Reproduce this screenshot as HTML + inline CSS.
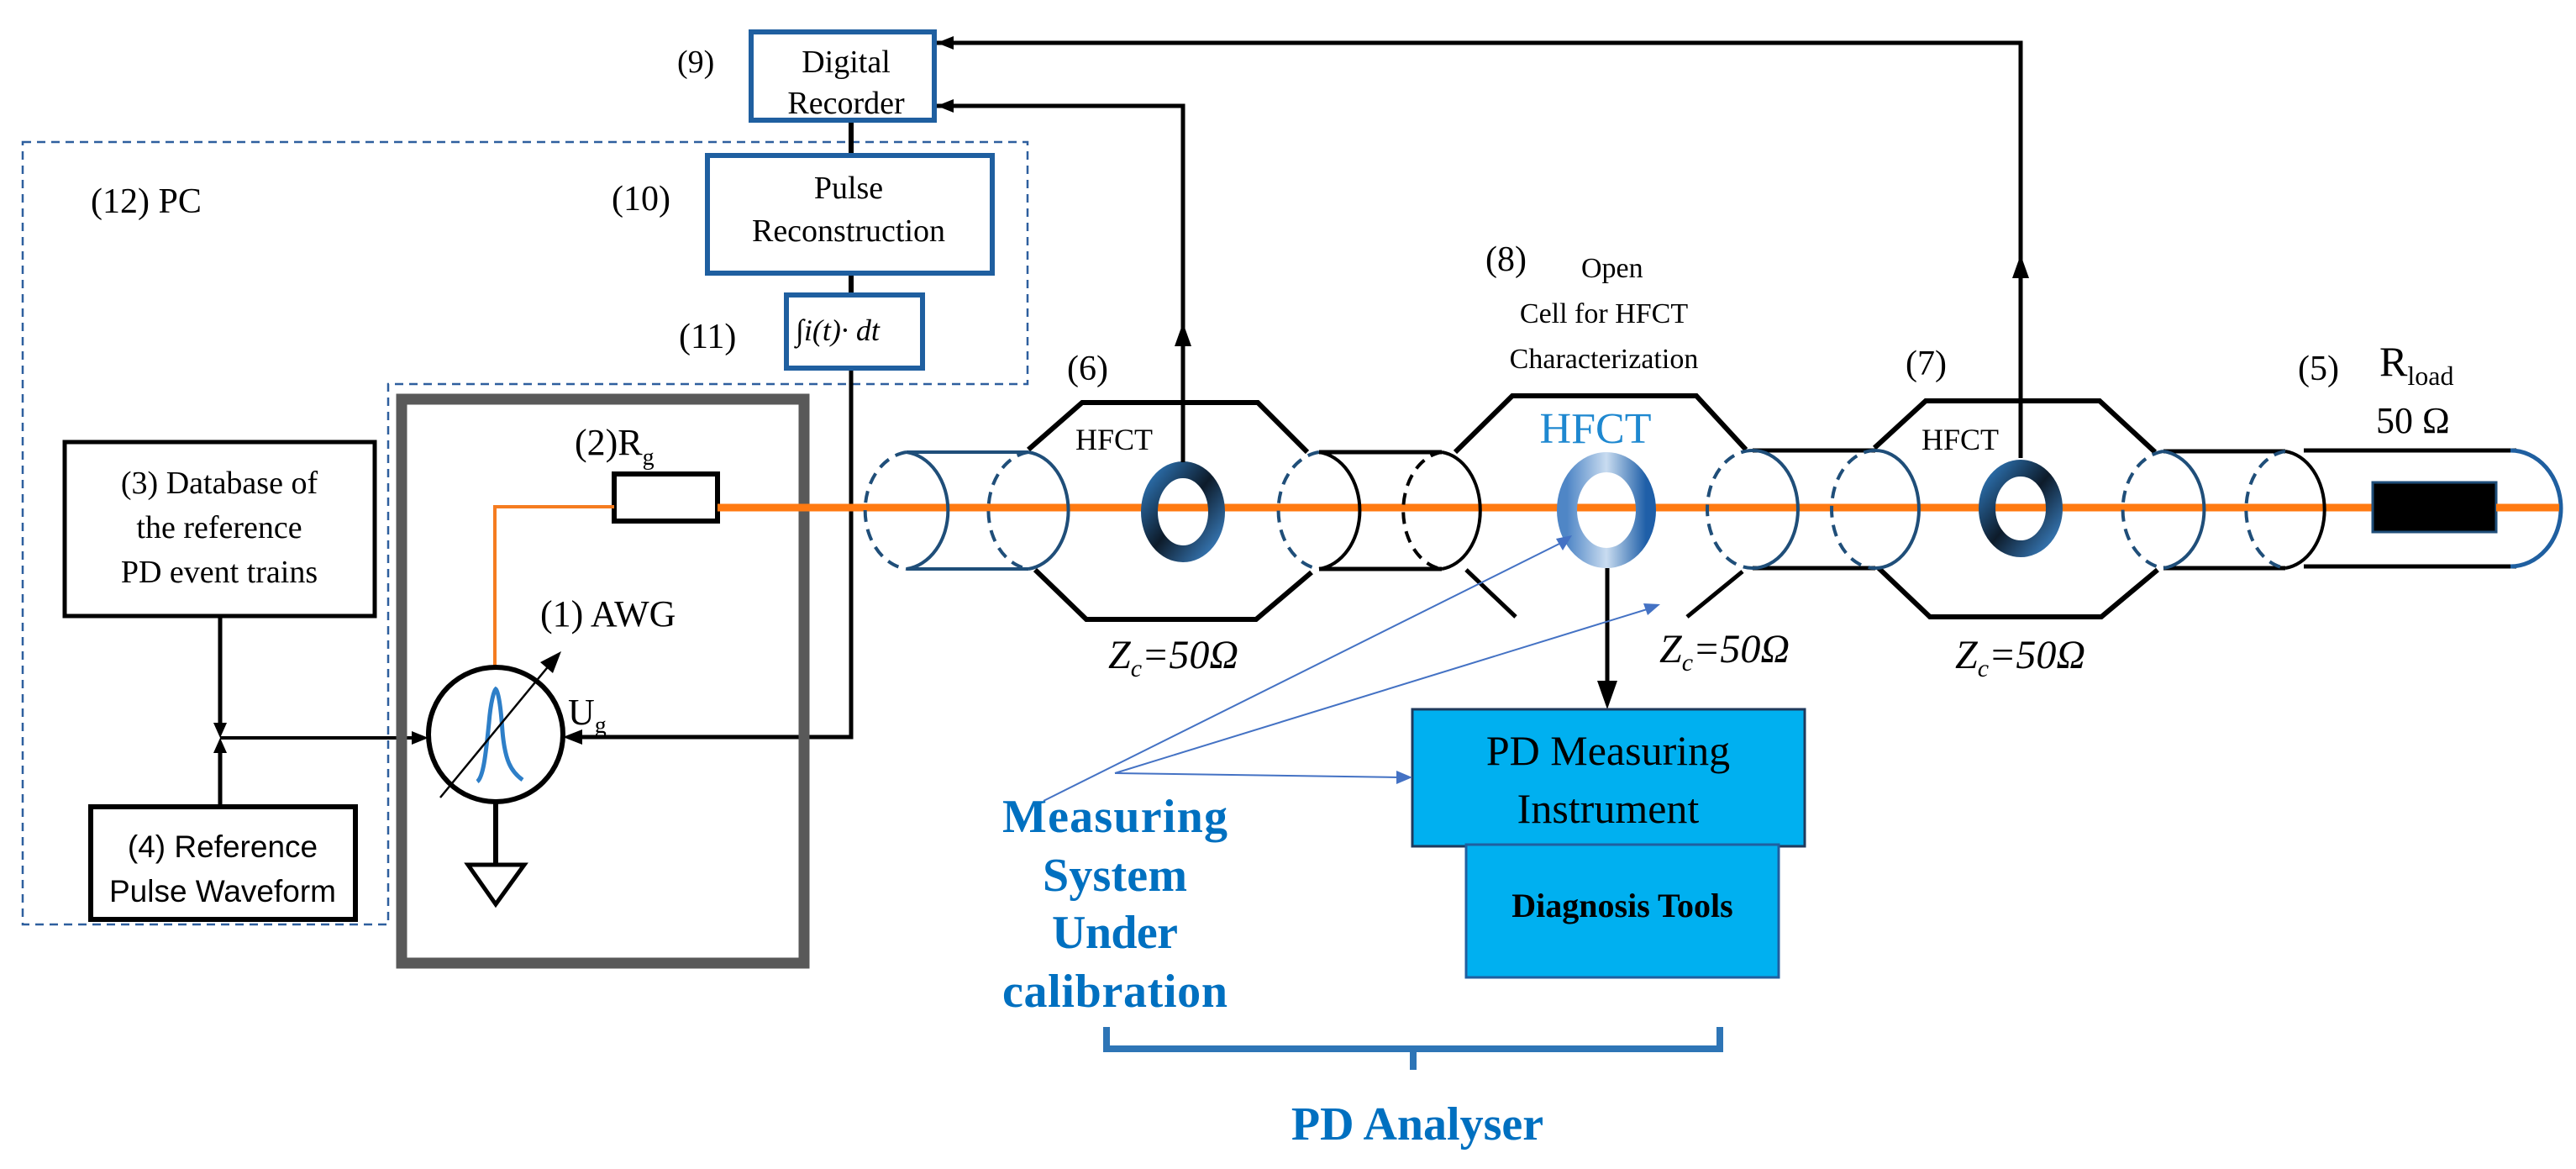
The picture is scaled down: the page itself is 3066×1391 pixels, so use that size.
<!DOCTYPE html>
<html><head><meta charset="utf-8"><style>
html,body{margin:0;padding:0;background:#fff;}
svg{display:block;font-family:"Liberation Serif","DejaVu Serif",serif;}
svg text{font-family:"Liberation Serif","DejaVu Serif",serif;}
svg text.sans{font-family:"Liberation Sans","DejaVu Sans",sans-serif;}
</style></head><body>
<svg width="3066" height="1391" viewBox="0 0 3066 1391" xmlns="http://www.w3.org/2000/svg" font-family="Liberation Serif, DejaVu Serif, serif">
<defs>
<linearGradient id="gd" x1="0" y1="0" x2="1" y2="1"><stop offset="0" stop-color="#2e75b6"/><stop offset="0.5" stop-color="#0d1b2a"/><stop offset="1" stop-color="#3a7fc0"/></linearGradient>
<linearGradient id="gl" x1="0" y1="0" x2="1" y2="0"><stop offset="0" stop-color="#4f86c6"/><stop offset="0.5" stop-color="#c9dcf0"/><stop offset="1" stop-color="#1f5fa8"/></linearGradient>
</defs>

<path d="M27 169 H1223 V457 H462 V1100 H27 Z" fill="none" stroke="#2e5f9e" stroke-width="2.5" stroke-dasharray="10 7"/>
<text x="108" y="253" font-size="42">(12) PC</text>

<rect x="894" y="38" width="218" height="105" fill="#fff" stroke="#1f5fa0" stroke-width="6"/>
<text x="1007" y="86" font-size="38" text-anchor="middle">Digital</text>
<text x="1007" y="135" font-size="38" text-anchor="middle">Recorder</text>
<text x="806" y="86" font-size="38">(9)</text>

<line x1="1013" y1="146" x2="1013" y2="182" stroke="#000" stroke-width="6"/>
<rect x="842" y="185" width="339" height="140" fill="#fff" stroke="#1f5fa0" stroke-width="6"/>
<text x="1010" y="236" font-size="38" text-anchor="middle">Pulse</text>
<text x="1010" y="287" font-size="38" text-anchor="middle">Reconstruction</text>
<text x="728" y="250" font-size="42">(10)</text>

<line x1="1013" y1="328" x2="1013" y2="348" stroke="#000" stroke-width="6"/>
<rect x="936" y="351" width="162" height="87" fill="#fff" stroke="#1f5fa0" stroke-width="6"/>
<text x="947" y="405" font-size="36" font-style="italic">∫i(t)· dt</text>
<text x="808" y="414" font-size="42">(11)</text>

<polyline points="1013,441 1013,877 690,877" fill="none" stroke="#000" stroke-width="5"/>
<polygon points="670,877 693,868 693,886" fill="#000"/>

<rect x="77" y="526" width="369" height="207" fill="#fff" stroke="#000" stroke-width="5"/>
<text x="261" y="587" font-size="38" text-anchor="middle">(3) Database of</text>
<text x="261" y="640" font-size="38" text-anchor="middle">the reference</text>
<text x="261" y="693" font-size="38" text-anchor="middle">PD event trains</text>
<rect x="108" y="960" width="315" height="134" fill="#fff" stroke="#000" stroke-width="6"/>
<text class="sans" x="265" y="1020" font-size="37" text-anchor="middle">(4) Reference</text>
<text class="sans" x="265" y="1073" font-size="37" text-anchor="middle">Pulse Waveform</text>

<line x1="262" y1="735" x2="262" y2="862" stroke="#000" stroke-width="5"/>
<polygon points="262,878 254,860 270,860" fill="#000"/>
<line x1="262" y1="958" x2="262" y2="894" stroke="#000" stroke-width="5"/>
<polygon points="262,878 254,896 270,896" fill="#000"/>
<line x1="262" y1="878" x2="492" y2="878" stroke="#000" stroke-width="4"/>
<polygon points="510,878 490,870 490,886" fill="#000"/>

<rect x="478" y="475" width="479" height="671" fill="none" stroke="#595959" stroke-width="13"/>
<text x="684" y="541" font-size="44">(2)R<tspan font-size="28" dy="12">g</tspan></text>
<rect x="731" y="564" width="123" height="56" fill="#fff" stroke="#000" stroke-width="6"/>
<polyline points="731,603 589,603 589,794" fill="none" stroke="#f57c20" stroke-width="4"/>
<text x="643" y="745" font-size="44">(1) AWG</text>
<circle cx="590" cy="874" r="80" fill="#fff" stroke="#000" stroke-width="6"/>
<path d="M568 930 C575 925 578 900 582 860 C584 835 588 822 590 820 C593 822 596 840 598 870 C601 905 608 918 622 928" fill="none" stroke="#2e7fc8" stroke-width="5"/>
<line x1="524" y1="949" x2="655" y2="790" stroke="#000" stroke-width="2.5"/>
<polygon points="668,775 643,788 658,801" fill="#000"/>
<text x="676" y="862" font-size="44">U<tspan font-size="28" dy="10">g</tspan></text>
<line x1="590" y1="954" x2="590" y2="1029" stroke="#000" stroke-width="6"/>
<polygon points="557,1029 624,1029 590,1076" fill="#fff" stroke="#000" stroke-width="5"/>

<line x1="854" y1="604" x2="3046" y2="604" stroke="#ff7a12" stroke-width="9"/>

<polyline points="1224,535 1288,479 1497,479 1556,538" fill="none" stroke="#000" stroke-width="6"/>
<polyline points="1232,678 1293,737 1495,737 1561,681" fill="none" stroke="#000" stroke-width="6"/>
<polyline points="1732,538 1800,471 2019,471 2078,535" fill="none" stroke="#000" stroke-width="6"/>
<line x1="1745" y1="678" x2="1804" y2="734" stroke="#000" stroke-width="5"/>
<line x1="2074" y1="680" x2="2008" y2="734" stroke="#000" stroke-width="5"/>
<polyline points="2231,533 2292,477 2499,477 2565,538" fill="none" stroke="#000" stroke-width="6"/>
<polyline points="2236,676 2297,734 2501,734 2568,678" fill="none" stroke="#000" stroke-width="6"/>

<g fill="none" stroke-width="4">
<line x1="1079" y1="538" x2="1224" y2="538" stroke="#1f4e79"/>
<line x1="1079" y1="677" x2="1224" y2="677" stroke="#1f4e79"/>
<path d="M1079 538 A56 70 0 0 0 1079 677" stroke="#1f4e79" stroke-dasharray="14 9"/>
<path d="M1079 538 A56 70 0 0 1 1079 677" stroke="#1f4e79"/>
<path d="M1224 538 A54 70 0 0 0 1224 677" stroke="#1f4e79" stroke-dasharray="14 9"/>
<path d="M1224 538 A54 70 0 0 1 1224 677" stroke="#1f4e79"/>
<line x1="1570" y1="538" x2="1716" y2="538" stroke="#000" stroke-width="5"/>
<line x1="1570" y1="677" x2="1716" y2="677" stroke="#000" stroke-width="5"/>
<path d="M1570 538 A55 70 0 0 0 1570 677" stroke="#1f4e79" stroke-dasharray="14 9"/>
<path d="M1570 538 A55 70 0 0 1 1570 677" stroke="#000"/>
<path d="M1716 538 A52 70 0 0 0 1716 677" stroke="#000" stroke-dasharray="14 9"/>
<path d="M1716 538 A52 70 0 0 1 1716 677" stroke="#000"/>
<line x1="2086" y1="536" x2="2232" y2="536" stroke="#000" stroke-width="5"/>
<line x1="2086" y1="676" x2="2232" y2="676" stroke="#000" stroke-width="5"/>
<path d="M2086 536 A54 70 0 0 0 2086 676" stroke="#1f4e79" stroke-dasharray="14 9"/>
<path d="M2086 536 A54 70 0 0 1 2086 676" stroke="#1f4e79"/>
<path d="M2232 536 A52 70 0 0 0 2232 676" stroke="#1f4e79" stroke-dasharray="14 9"/>
<path d="M2232 536 A52 70 0 0 1 2232 676" stroke="#1f4e79"/>
<line x1="2575" y1="537" x2="2720" y2="537" stroke="#000" stroke-width="5"/>
<line x1="2575" y1="676" x2="2720" y2="676" stroke="#000" stroke-width="5"/>
<path d="M2575 537 A55 70 0 0 0 2575 676" stroke="#1f4e79" stroke-dasharray="14 9"/>
<path d="M2575 537 A55 70 0 0 1 2575 676" stroke="#1f4e79"/>
<path d="M2720 537 A53 70 0 0 0 2720 676" stroke="#1f4e79" stroke-dasharray="14 9"/>
<path d="M2720 537 A53 70 0 0 1 2720 676" stroke="#000"/>
<line x1="2742" y1="536" x2="2995" y2="536" stroke="#000" stroke-width="5"/>
<line x1="2742" y1="674" x2="2995" y2="674" stroke="#000" stroke-width="5"/>
<path d="M2988 536 A60 69 0 0 1 2988 674" stroke="#1f5fa0" stroke-width="5"/>
</g>
<rect x="2824" y="574" width="147" height="59" fill="#000" stroke="#1f4e79" stroke-width="3"/>
<line x1="2971" y1="604" x2="3046" y2="604" stroke="#ff7a12" stroke-width="9"/>

<ellipse cx="1408" cy="609" rx="40" ry="50" fill="none" stroke="url(#gd)" stroke-width="20"/>
<ellipse cx="2405" cy="605" rx="40" ry="48" fill="none" stroke="url(#gd)" stroke-width="20"/>
<ellipse cx="1912" cy="607" rx="47" ry="57" fill="none" stroke="url(#gl)" stroke-width="24"/>

<polyline points="1408,550 1408,126 1115,126" fill="none" stroke="#000" stroke-width="5"/>
<polygon points="1408,384 1398,412 1418,412" fill="#000"/>
<polygon points="1115,126 1135,118 1135,134" fill="#000"/>
<polyline points="2405,545 2405,51 1115,51" fill="none" stroke="#000" stroke-width="5"/>
<polygon points="2405,303 2395,331 2415,331" fill="#000"/>
<polygon points="1115,51 1135,43 1135,59" fill="#000"/>

<line x1="1913" y1="676" x2="1913" y2="815" stroke="#000" stroke-width="5"/>
<polygon points="1913,844 1901,810 1925,810" fill="#000"/>

<text x="1270" y="452" font-size="42">(6)</text>
<text x="1280" y="535" font-size="36">HFCT</text>
<text x="1768" y="322" font-size="42">(8)</text>
<text x="1882" y="330" font-size="34">Open</text>
<text x="1909" y="384" font-size="34" text-anchor="middle">Cell for HFCT</text>
<text x="1909" y="438" font-size="34" text-anchor="middle">Characterization</text>
<text x="1899" y="527" font-size="52" fill="#1e88d0" text-anchor="middle">HFCT</text>
<text x="2268" y="446" font-size="42">(7)</text>
<text x="2287" y="535" font-size="36">HFCT</text>
<text x="2735" y="452" font-size="42">(5)</text>
<text x="2832" y="447" font-size="50">R<tspan font-size="32" dy="11">load</tspan></text>
<text x="2828" y="515" font-size="44">50 Ω</text>

<text x="1319" y="795" font-size="48" font-style="italic">Z<tspan font-size="30" dy="10">c</tspan><tspan dy="-10">=50Ω</tspan></text>
<text x="1975" y="788" font-size="48" font-style="italic">Z<tspan font-size="30" dy="10">c</tspan><tspan dy="-10">=50Ω</tspan></text>
<text x="2327" y="795" font-size="48" font-style="italic">Z<tspan font-size="30" dy="10">c</tspan><tspan dy="-10">=50Ω</tspan></text>

<rect x="1681" y="844" width="467" height="163" fill="#00b0f0" stroke="#1f3a5c" stroke-width="3"/>
<rect x="1745" y="1005" width="372" height="158" fill="#00b0f0" stroke="#1f5fa0" stroke-width="3"/>
<text x="1914" y="910" font-size="50" text-anchor="middle">PD Measuring</text>
<text x="1914" y="979" font-size="50" text-anchor="middle">Instrument</text>
<text x="1931" y="1091" font-size="40" font-weight="bold" text-anchor="middle">Diagnosis Tools</text>

<g stroke="#4472c4" stroke-width="2" fill="none">
<line x1="1242" y1="953" x2="1866" y2="642"/>
<line x1="1327" y1="920" x2="1970" y2="722"/>
<line x1="1327" y1="920" x2="1665" y2="925"/>
</g>
<polygon points="1871,637 1852,641 1860,655" fill="#4472c4"/>
<polygon points="1976,719 1956,718 1961,732" fill="#4472c4"/>
<polygon points="1681,925 1662,917 1662,933" fill="#4472c4"/>

<g fill="#0070c0" font-weight="bold" font-size="56" text-anchor="middle">
<text x="1327" y="990" textLength="268">Measuring</text>
<text x="1327" y="1060" textLength="172">System</text>
<text x="1327" y="1128" textLength="150">Under</text>
<text x="1327" y="1198" textLength="268">calibration</text>
</g>

<polyline points="1317,1222 1317,1248 2047,1248 2047,1222" fill="none" stroke="#2e75b6" stroke-width="8"/>
<line x1="1682" y1="1248" x2="1682" y2="1273" stroke="#2e75b6" stroke-width="8"/>
<text x="1687" y="1356" font-size="56" font-weight="bold" fill="#0070c0" text-anchor="middle">PD Analyser</text>
</svg>
</body></html>
